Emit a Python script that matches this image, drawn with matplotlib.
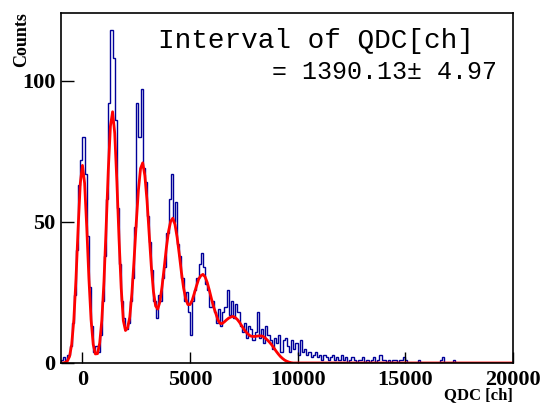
import numpy as np
import matplotlib
matplotlib.use("Agg")
import matplotlib.pyplot as plt

# QDC histogram, bins of 100 ch from -1000 to 20000
bin_lo = -1000
bin_hi = 20000
bin_w = 100
counts = [
    1, 2, 1, 3, 6, 14, 24, 40, 63, 72,
    80, 67, 45, 27, 13, 4, 6, 4, 10, 22,
    38, 58, 92, 118, 108, 86, 55, 35, 22, 16,
    12, 14, 22, 30, 48, 92, 80, 97, 69, 64,
    52, 43, 33, 22, 16, 24, 22, 30, 34, 46,
    58, 67, 50, 57, 42, 38, 30, 22, 25, 18,
    10, 22, 26, 30, 35, 39, 34, 28, 26, 20,
    22, 18, 14, 19, 13, 18, 20, 26, 17, 22,
    16, 21, 18, 13, 11, 14, 9, 13, 12, 8,
    11, 18, 9, 12, 7, 13, 10, 8, 5, 9,
    7, 10, 4, 8, 9, 6, 4, 8, 5, 7,
    3, 8, 4, 5, 3, 4, 2, 3, 4, 2,
    3, 1, 3, 2, 1, 2, 3, 1, 2, 1,
    3, 1, 2, 0, 1, 2, 1, 0, 1, 1,
    2, 0, 1, 0, 1, 2, 0, 1, 3, 1,
    1, 0, 1, 0, 1, 1, 0, 1, 1, 2,
    1, 0, 0, 0, 0, 0, 1, 0, 0, 0,
    0, 0, 0, 0, 0, 0, 1, 2, 0, 0,
    0, 0, 1, 0, 0, 0, 0, 0, 0, 0,
    0, 0, 0, 0, 0, 0, 0, 0, 0, 0,
    0, 0, 0, 0, 0, 0, 0, 0, 0, 0,
]

# fitted multi-peak curve, read every 100 ch from -1000 to 10000
fit_vals = [
    0.0, 0.0, 0.2, 0.7, 2.3, 6.6, 15.4, 29.9, 48.0, 63.7,
    70.0, 63.7, 48.0, 29.9, 15.4, 6.6, 3.2, 3.3, 7.0, 15.1,
    28.9, 47.8, 68.2, 83.9, 89.0, 81.4, 64.2, 44.0, 26.6, 15.0,
    11.5, 12.5, 16.3, 24.9, 36.6, 49.5, 61.2, 68.9, 70.9, 66.4,
    57.6, 45.8, 34.3, 25.3, 20.2, 19.1, 21.7, 27.1, 33.8, 40.8,
    46.6, 50.2, 51.3, 49.1, 44.5, 38.5, 32.1, 26.6, 22.7, 20.7,
    20.7, 22.2, 24.7, 27.3, 29.7, 30.9, 31.4, 30.5, 28.5, 25.7,
    22.6, 19.8, 17.5, 15.2, 14.0, 14.0, 14.6, 15.3, 15.9, 16.3,
    16.5, 16.1, 15.4, 14.4, 13.2, 12.0, 11.0, 10.2, 9.6, 9.4,
    9.4, 9.5, 9.6, 9.6, 9.4, 8.8, 8.1, 7.3, 6.4, 5.3,
    4.2, 3.2, 2.3, 1.6, 1.0, 0.6, 0.3, 0.1, 0.0, 0.0,
    0.0,
]
fit_end = 20000

xticks = [0, 5000, 10000, 15000, 20000]
yticks = [0, 50, 100]
label1 = "Interval of QDC[ch]"
label2 = "= 1390.13\u00b1 4.97"

edges = np.arange(bin_lo, bin_hi + bin_w, bin_w)
fit_x = list(np.arange(bin_lo, bin_lo + bin_w * len(fit_vals), bin_w)) + [fit_end]
fit_y = fit_vals + [0.0]

fig = plt.figure(figsize=(5.49, 4.03), dpi=100)
ax = fig.add_axes([0.111, 0.0993, 0.823, 0.8685])

ax.stairs(counts, edges, color="#000099", linewidth=1.0)
ax.plot(fit_x, fit_y, color="#ff0000", linewidth=2.0)

ax.set_xlim(bin_lo, bin_hi)
ax.set_ylim(0, 124)
ax.set_xticks(xticks)
ax.set_yticks(yticks)
ax.tick_params(direction="in", top=False, right=False, width=1.0)
ax.tick_params(axis="y", length=9, pad=4)
ax.tick_params(axis="x", length=8, pad=5)
for lab in ax.get_xticklabels() + ax.get_yticklabels():
    lab.set_fontfamily("Liberation Serif")
    lab.set_fontweight("bold")
    lab.set_fontsize(16)
for sp in ax.spines.values():
    sp.set_linewidth(1.2)

# axis titles, ROOT style (at the ends of the axes)
ax.text(1.0, -0.093, "QDC [ch]", transform=ax.transAxes, ha="right", va="center",
        fontfamily="Liberation Serif", fontweight="bold", fontsize=12)
ax.text(-0.087, 1.003, "Counts", transform=ax.transAxes, ha="center", va="top",
        rotation=90, fontfamily="Liberation Serif", fontweight="bold", fontsize=13)

# fit result
ax.text(0.915, 0.92, label1, transform=ax.transAxes, ha="right", va="center",
        fontfamily="Liberation Mono", fontsize=20)
ax.text(0.965, 0.83, label2, transform=ax.transAxes, ha="right", va="center",
        fontfamily="Liberation Mono", fontsize=18)

fig.savefig("out.png", dpi=100)
